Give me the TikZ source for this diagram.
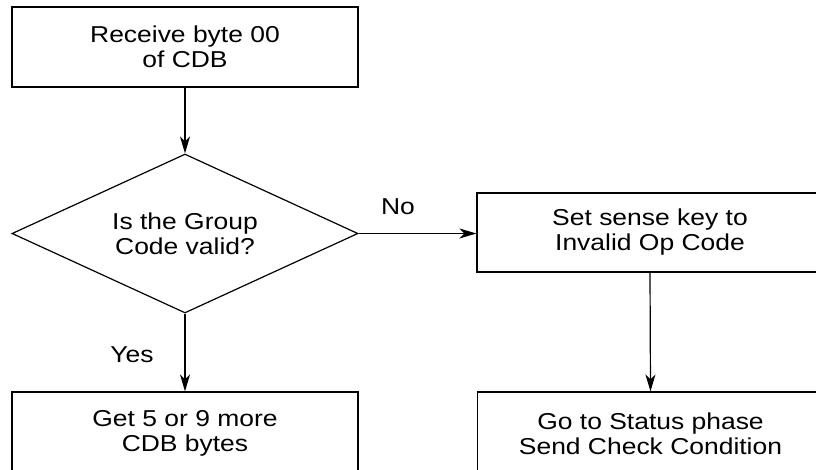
\documentclass[tikz,border=0pt]{standalone}
\usepackage{fontspec}
\setmainfont[FakeStretch=1.15]{Liberation Sans}
\usetikzlibrary{shapes.geometric,arrows.meta}
\begin{document}
\begin{tikzpicture}[x=1pt,y=-1pt,line width=1.2pt,
  txt/.style={align=center,font=\fontsize{23}{25}\selectfont,inner sep=0pt},
  box/.style={txt,draw,rectangle,minimum width=346pt},
  dec/.style={txt,draw,diamond,shape aspect=2.18,minimum width=346pt,minimum height=159pt},
  arr/.style={-{Stealth[length=17pt,width=10pt,inset=5pt]}},
  lbl/.style={txt}]
\useasboundingbox (0,0) rectangle (816,469);
\clip (0,0) rectangle (816,469);
\node[box,minimum height=80pt] (recv) at (185,47) {Receive byte 00\\of CDB};
\node[dec] (valid) at (185,233.5) {Is the Group\\Code valid?};
\node[box,minimum height=79pt] (sense) at (650,232.5) {Set sense key to\\Invalid Op Code};
\node[box,minimum height=83pt] (more) at (185,433.5) {Get 5 or 9 more\\CDB bytes};
\node[box,minimum height=83pt] (status) at (650.5,433.5) {Go to Status phase\\Send Check Condition};
\draw[arr] (recv.south) -- (valid.north);
\draw[arr] (valid.east) -- (valid.east -| sense.west);
\draw[arr] (valid.south) -- (more.north);
\draw[arr] (sense.south) -- (status.north);
\node[lbl] (no) at (398,207) {No};
\node[lbl] (yes) at (132,355) {Yes};
\end{tikzpicture}
\end{document}
